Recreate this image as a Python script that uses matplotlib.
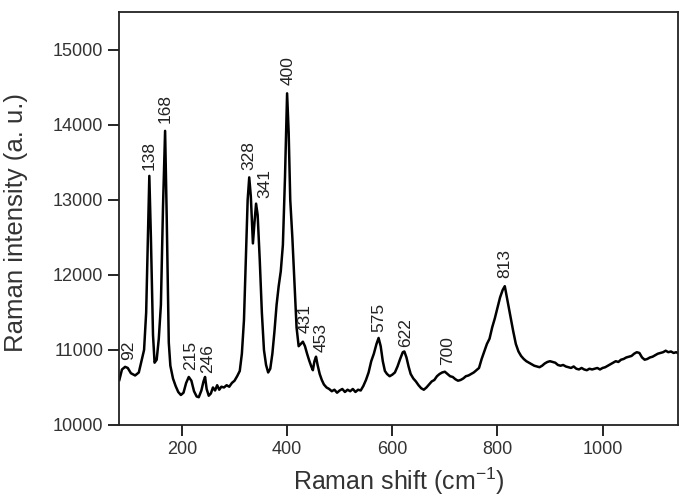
import matplotlib.pyplot as plt

plt.rcParams["font.family"] = ["Liberation Sans", "DejaVu Sans"]
plt.rcParams["mathtext.fontset"] = "custom"
plt.rcParams["mathtext.rm"] = "Liberation Sans"

# Raman shift (cm-1) and intensity (a.u.)
shift = [81, 86, 92, 97, 103, 111, 118, 124, 128, 132, 135, 138, 141, 145, 148,
         152, 156, 160, 164, 168, 171, 175, 178, 183, 188, 193, 198, 203, 208,
         213, 218, 223, 228, 232, 237, 241, 244, 247, 251, 255, 259, 263, 267,
         271, 275, 280, 285, 290, 295, 300, 305, 310, 314, 318, 322, 325, 328,
         331, 335, 338, 341, 344, 348, 352, 356, 360, 364, 368, 372, 376, 380,
         384, 388, 392, 396, 400, 403, 406, 410, 414, 418, 422, 426, 430, 434,
         438, 442, 446, 449, 452, 455, 458, 462, 466, 470, 475, 480, 485, 490,
         495, 500, 505, 510, 515, 520, 525, 530, 535, 540, 545, 550, 555, 560,
         565, 570, 574, 578, 582, 586, 590, 595, 600, 605, 610, 615, 620, 623,
         627, 631, 635, 640, 645, 650, 655, 660, 665, 670, 675, 680, 685, 690,
         695, 700, 705, 710, 715, 720, 725, 730, 735, 740, 745, 750, 755, 760,
         765, 770, 775, 780, 785, 790, 795, 800, 805, 810, 814, 818, 822, 826,
         830, 835, 840, 845, 850, 855, 860, 865, 870, 875, 880, 885, 890, 895,
         900, 905, 910, 915, 920, 925, 930, 935, 940, 945, 950, 955, 960, 965,
         970, 975, 980, 985, 990, 995, 1000, 1005, 1010, 1015, 1020, 1025, 1030,
         1035, 1040, 1045, 1050, 1055, 1060, 1065, 1070, 1075, 1080, 1085, 1090,
         1095, 1100, 1105, 1110, 1115, 1120, 1125, 1130, 1135, 1140, 1145]
intensity = [10600, 10740, 10775, 10760, 10690, 10660, 10700, 10880, 11000,
             11500, 12400, 13320, 12500, 11200, 10830, 10870, 11150, 11600,
             12900, 13920, 12800, 11100, 10790, 10620, 10520, 10440, 10400,
             10430, 10560, 10640, 10590, 10450, 10380, 10370, 10460, 10580,
             10640, 10480, 10390, 10420, 10500, 10460, 10530, 10470, 10510,
             10500, 10530, 10510, 10560, 10590, 10650, 10720, 10950, 11400,
             12300, 13000, 13300, 13050, 12420, 12700, 12950, 12800, 12200,
             11500, 11000, 10800, 10700, 10750, 10950, 11250, 11600, 11850,
             12050, 12400, 13300, 14420, 13900, 13000, 12500, 11900, 11300,
             11050, 11080, 11110, 11050, 10950, 10860, 10780, 10730, 10850,
             10910, 10800, 10680, 10600, 10540, 10500, 10480, 10450, 10470,
             10430, 10460, 10480, 10440, 10470, 10450, 10480, 10440, 10470,
             10460, 10520, 10600, 10700, 10850, 10950, 11080, 11160, 11050,
             10850, 10720, 10680, 10650, 10670, 10700, 10780, 10880, 10970,
             10980, 10900, 10780, 10680, 10620, 10580, 10530, 10490, 10470,
             10500, 10540, 10580, 10600, 10650, 10680, 10700, 10710, 10680,
             10650, 10640, 10610, 10590, 10600, 10620, 10650, 10660, 10680,
             10700, 10730, 10760, 10880, 10980, 11080, 11150, 11300, 11420,
             11560, 11700, 11800, 11850, 11700, 11550, 11400, 11250, 11080,
             10980, 10920, 10880, 10850, 10830, 10810, 10790, 10780, 10770,
             10790, 10820, 10840, 10850, 10840, 10830, 10800, 10790, 10800,
             10780, 10770, 10760, 10780, 10750, 10740, 10760, 10740, 10730,
             10750, 10740, 10750, 10760, 10740, 10760, 10770, 10790, 10810,
             10830, 10850, 10840, 10870, 10880, 10900, 10910, 10920, 10950,
             10970, 10960, 10900, 10870, 10880, 10900, 10910, 10930, 10950,
             10960, 10970, 10990, 10970, 10980, 10960, 10970, 10950]

# peak labels: text, x position, y of label bottom
peak_labels = ["92", "138", "168", "215", "246", "328", "341", "400", "431",
               "453", "575", "622", "700", "813"]
peak_x = [99, 138, 168, 216, 249, 328, 358, 402, 435, 464, 574, 625, 705, 814]
peak_y = [10870, 13400, 14020, 10730, 10690, 13400, 13020, 14530, 11220,
          10970, 11240, 11040, 10800, 11960]

fig = plt.figure(figsize=(6.82, 4.98), dpi=100)
ax = fig.add_axes([0.175, 0.1466, 0.8196, 0.8287])

ax.plot(shift, intensity, color="black", linewidth=1.8)

for label, px, py in zip(peak_labels, peak_x, peak_y):
    ax.text(px, py, label, rotation=90, ha="center", va="bottom",
            fontsize=12.5, color="#222222")

ax.set_xlim(81, 1144)
ax.set_ylim(10000, 15500)
ax.set_xticks([200, 400, 600, 800, 1000])
ax.set_yticks([10000, 11000, 12000, 13000, 14000, 15000])
ax.tick_params(direction="out", length=8, width=1.2, labelsize=13,
               labelcolor="#333333", top=False, right=False)
for s in ax.spines.values():
    s.set_linewidth(1.3)
    s.set_color("#222222")

ax.set_xlabel(r"Raman shift (cm$^{\mathregular{-1}}$)", fontsize=18,
              color="#333333")
ax.set_ylabel("Raman intensity (a. u.)", fontsize=18.5, color="#333333")
ax.xaxis.set_label_coords(0.5, -0.098)
ax.yaxis.set_label_coords(-0.163, 0.49)

fig.savefig("out.png", dpi=100)
